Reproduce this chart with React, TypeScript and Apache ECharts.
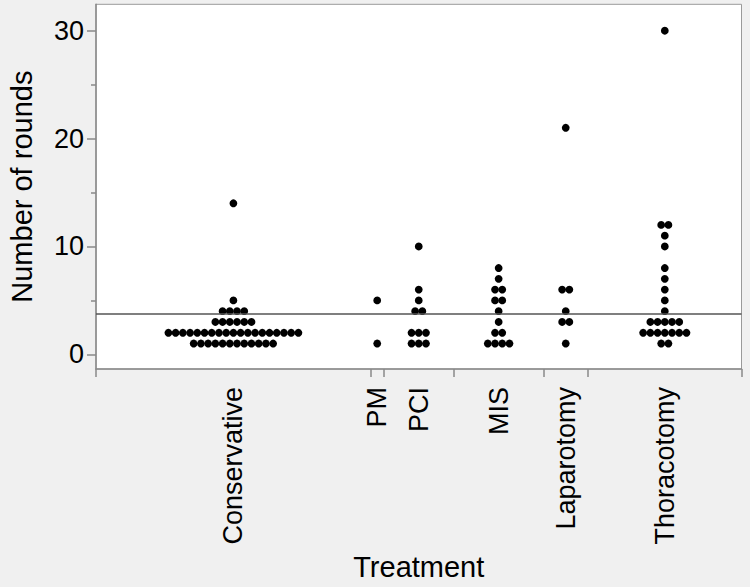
import React, { useEffect, useRef } from "react";
import * as echarts from "echarts";

const categories = ["Conservative", "PM", "PCI", "MIS", "Laparotomy", "Thoracotomy"];

const conservative = [
  14, 5, 4, 4, 4, 4, 3, 3, 3, 3, 3, 3,
  2, 2, 2, 2, 2, 2, 2, 2, 2, 2, 2, 2, 2, 2, 2, 2, 2, 2, 2,
  1, 1, 1, 1, 1, 1, 1, 1, 1, 1, 1, 1,
];
const pm = [5, 1];
const pci = [10, 6, 5, 4, 4, 2, 2, 2, 1, 1, 1];
const mis = [8, 7, 6, 6, 5, 5, 4, 3, 2, 2, 1, 1, 1, 1];
const laparotomy = [21, 6, 6, 4, 3, 3, 1];
const thoracotomy = [30, 12, 12, 11, 10, 8, 7, 6, 5, 4, 3, 3, 3, 3, 3, 2, 2, 2, 2, 2, 2, 2, 1, 1];

const groups = [conservative, pm, pci, mis, laparotomy, thoracotomy];

const yMajorTicks = [0, 10, 20, 30];
const yMinorTicks = [5, 15, 25];

const FONT = "'Liberation Sans', Arial, Helvetica, sans-serif";

export default function App() {
  const ref = useRef<HTMLDivElement>(null);

  useEffect(() => {
    if (!ref.current) return;
    const chart = echarts.init(ref.current, null, { renderer: "svg" });

    const total = groups.reduce((s, g) => s + g.length, 0);
    const boundaries: number[] = [0];
    groups.forEach((g) => boundaries.push(boundaries[boundaries.length - 1] + g.length));
    const centers = groups.map((g, i) => boundaries[i] + g.length / 2);

    // beeswarm spacing in axis units (dot width relative to per-count width)
    const dotStep = 1.13;
    const points: number[][] = [];
    groups.forEach((g, i) => {
      const counts = new Map<number, number>();
      g.forEach((v) => counts.set(v, (counts.get(v) || 0) + 1));
      counts.forEach((k, v) => {
        for (let j = 0; j < k; j++) {
          points.push([centers[i] + (j - (k - 1) / 2) * dotStep, v]);
        }
      });
    });
    const all = groups.flat();
    const mean = all.reduce((s, v) => s + v, 0) / all.length;

    const gray = "#8a8a8a";

    chart.setOption({
      animation: false,
      backgroundColor: "#f0f0f0",
      textStyle: { fontFamily: FONT },
      grid: {
        left: 96,
        right: 8.5,
        top: 4.3,
        bottom: 218,
        show: true,
        backgroundColor: "#ffffff",
        borderColor: "#9a9a9a",
        borderWidth: 1,
        outerBoundsMode: "none",
        containLabel: false,
      },
      xAxis: {
        type: "value",
        min: 0,
        max: total,
        name: "Treatment",
        nameLocation: "middle",
        nameGap: 180,
        nameTextStyle: { fontSize: 29, color: "#000", fontFamily: FONT },
        axisLine: { show: true, onZero: false, lineStyle: { color: gray, width: 1.5 } },
        axisTick: {
          show: true,
          customValues: boundaries,
          length: 8,
          lineStyle: { color: gray, width: 1.5 },
        },
        axisLabel: {
          show: true,
          customValues: centers,
          rotate: 90,
          margin: 18,
          fontSize: 27,
          color: "#000",
          fontFamily: FONT,
          formatter: (v: number) => {
            let best = 0;
            centers.forEach((c, i) => {
              if (Math.abs(c - v) < Math.abs(centers[best] - v)) best = i;
            });
            return categories[best];
          },
        },
        splitLine: { show: false },
      },
      yAxis: [
        {
          type: "value",
          min: -1.36,
          max: 32.45,
          name: "Number of rounds",
          nameLocation: "middle",
          nameGap: 60,
          nameTextStyle: { fontSize: 29, color: "#000", fontFamily: FONT },
          axisLine: { show: true, onZero: false, lineStyle: { color: gray, width: 1.5 } },
          axisTick: {
            show: true,
            customValues: yMajorTicks,
            length: 9,
            lineStyle: { color: gray, width: 1.5 },
          },
          axisLabel: {
            show: true,
            customValues: yMajorTicks,
            margin: 12,
            fontSize: 27,
            color: "#000",
            fontFamily: FONT,
          },
          splitLine: { show: false },
        },
        {
          type: "value",
          min: -1.36,
          max: 32.45,
          position: "left",
          offset: 0,
          axisLine: { show: false, onZero: false },
          axisTick: {
            show: true,
            customValues: yMinorTicks,
            length: 5,
            lineStyle: { color: gray, width: 1.5 },
          },
          axisLabel: { show: false },
          splitLine: { show: false },
        },
      ],
      series: [
        {
          type: "scatter",
          data: points,
          symbol: "circle",
          symbolSize: 7.8,
          itemStyle: { color: "#000", opacity: 1 },
          markLine: {
            silent: true,
            symbol: "none",
            label: { show: false },
            lineStyle: { color: "#555", width: 1.5, type: "solid" },
            data: [{ yAxis: mean }],
          },
        },
      ],
    });

    return () => chart.dispose();
  }, []);

  return (
    <div
      ref={ref}
      style={{ position: "fixed", left: 0, top: 0, width: 750, height: 587 }}
    />
  );
}
